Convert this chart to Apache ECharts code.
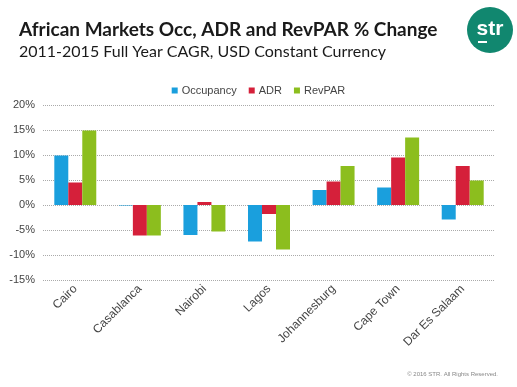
<!DOCTYPE html>
<html><head><meta charset="utf-8">
<script src="https://cdn.jsdelivr.net/npm/echarts@6/dist/echarts.min.js"></script>
<style>html,body{margin:0;padding:0;background:#fff}#c{width:517px;height:387px}</style>
</head><body><div id="c"></div>
<script>
const categories = ["Cairo","Casablanca","Nairobi","Lagos","Johannesburg","Cape Town","Dar Es Salaam"];
const occupancy = [9.9, -0.1, -6.0, -7.3, 3.0, 3.5, -2.9];
const adr = [4.5, -6.1, 0.6, -1.8, 4.7, 9.5, 7.8];
const revpar = [14.9, -6.1, -5.3, -8.9, 7.8, 13.5, 4.9];
const seriesNames = ["Occupancy","ADR","RevPAR"];
const yTicks = {min:-15, max:20, interval:5};

const chart = echarts.init(document.getElementById('c'));
const colors = ['#1A9FDD','#D5203A','#8CBE1E'];
chart.setOption({
  animation:false,
  color: colors,
  title:[
    {text:'African Markets Occ, ADR and RevPAR % Change', left:14, top:15,
     textStyle:{fontFamily:'Lato', fontWeight:'bold', fontSize:19, color:'#1a1a1a'}},
    {text:'2011-2015 Full Year CAGR, USD Constant Currency', left:14, top:39,
     textStyle:{fontFamily:'Lato', fontWeight:'normal', fontSize:16, color:'#1a1a1a'}},
    {text:'\u00a9 2016 STR. All Rights Reserved.', right:14, bottom:5,
     textStyle:{fontFamily:'Liberation Sans', fontWeight:'normal', fontSize:6, color:'#888'}}
  ],
  graphic:[
    {type:'circle', shape:{cx:490, cy:30, r:23}, style:{fill:'#11876F'}},
    {type:'text', x:490, y:29, style:{text:'str', fill:'#fff', font:'bold 21px "Liberation Sans"', textAlign:'center', textVerticalAlign:'middle'}},
    {type:'rect', shape:{x:478, y:41, width:9, height:2}, style:{fill:'#fff'}}
  ],
  legend:{
    top:80, left:'center', itemWidth:6, itemHeight:6, itemGap:12,
    icon:'rect',
    textStyle:{fontFamily:'Liberation Sans', fontSize:11, color:'#444', padding:[0,0,0,-1]},
    data: seriesNames
  },
  grid:{left:43, right:22, top:105, bottom:107},
  xAxis:{
    type:'category', data:categories,
    axisLine:{show:false}, axisTick:{show:false},
    axisLabel:{rotate:45, fontFamily:'Liberation Sans', fontSize:12, color:'#444', margin:7}
  },
  yAxis:{
    type:'value', min:yTicks.min, max:yTicks.max, interval:yTicks.interval,
    axisLine:{show:false}, axisTick:{show:false},
    axisLabel:{formatter:v=>v+'%', fontFamily:'Liberation Sans', fontSize:11, color:'#444', margin:8},
    splitLine:{lineStyle:{color:'#aaa', type:'dotted', width:1}}
  },
  series:[
    {name:seriesNames[0], type:'bar', data:occupancy, barGap:'0%', barCategoryGap:'35%'},
    {name:seriesNames[1], type:'bar', data:adr, barGap:'0%', barCategoryGap:'35%'},
    {name:seriesNames[2], type:'bar', data:revpar, barGap:'0%', barCategoryGap:'35%'}
  ]
});
</script></body></html>
